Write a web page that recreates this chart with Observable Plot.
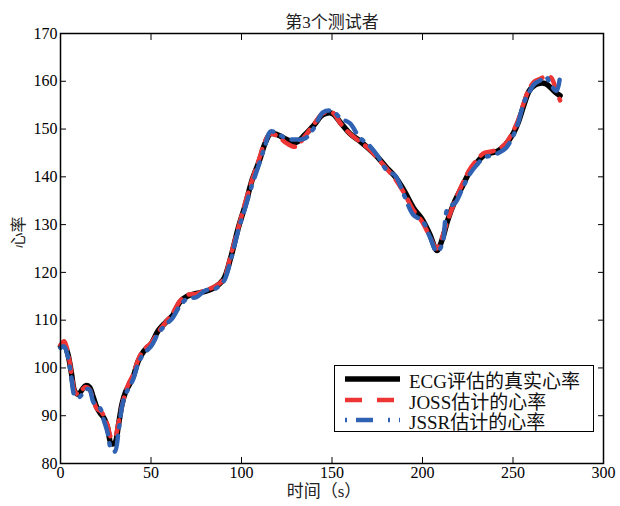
<!DOCTYPE html>
<html><head><meta charset="utf-8">
<script src="https://cdn.jsdelivr.net/npm/d3@7"></script>
<script src="https://cdn.jsdelivr.net/npm/@observablehq/plot@0.6"></script>
<style>
body{margin:0;background:#fff;}
#wrap{position:relative;width:620px;height:506px;}
#legend{position:absolute;left:334px;top:365px;width:258px;height:65px;border:1.5px solid #000;background:#fff;font-family:"Liberation Serif","Noto Sans CJK SC",serif;font-size:19px;color:#111;}
#legend .row{position:absolute;left:0;height:20px;display:flex;align-items:center;white-space:nowrap;}
#legend svg{margin-left:10px;margin-right:9px;}
</style></head>
<body><div id="wrap"></div>
<script>
const title = "第3个测试者";
const xLabel = "时间（s）";
const yLabel = "心率";
const seriesNames = ["ECG评估的真实心率", "JOSS估计的心率", "JSSR估计的心率"];
const xTicks = [0, 50, 100, 150, 200, 250, 300];
const yTicks = [80, 90, 100, 110, 120, 130, 140, 150, 160, 170];

const time = [0,2,4,6,8,10,12,14,16,18,20,22,24,26,28,30,32,34,36,38,40,43,46,50,54,58,62,66,70,75,80,85,90,94,98,102,106,110,113,116,120,125,130,135,140,145,150,155,160,165,170,175,180,185,190,195,200,204,208,211,214,218,222,226,230,234,238,242,246,250,253,256,259,262,265,268,271,274,276];
const ecg = [104.5,104.8,103,99,95,94.5,95.5,96.3,96,94,91.8,90.5,89.5,87.5,84.2,84.3,88,92.5,95,96.5,98,101.5,103.5,105,107.8,109.5,111,113.8,115,115.6,116,116.8,118.5,123,129,134,139.5,143.5,147,149,148.8,147.8,147.2,148.8,150.8,153,153.3,151.2,149,147.6,146,144.2,142,140,137,133.5,131,128,124.6,127,131,135,138,141,143,144.5,145,145.5,146.8,149,151.5,155,158,159.2,159.6,159.5,158.6,157.5,157];
const joss = [104.8,105.6,103.5,99,95,94.5,95.5,96,95.5,93.5,91.5,91,90,88,85.5,85.5,88.5,92,95,97,98.5,101.8,103.8,105.2,107.5,109.5,111.5,114,115.3,115.5,116.3,117,118.5,123.5,129,134.5,139.5,144,147.5,149,148.5,147,146.3,148.5,151,153.3,153.5,151,149,147.5,146,144,141.8,139.5,136.5,133,130.5,127.5,125,127.5,131,135,138.5,141.5,143.5,145,145.3,145.8,147,149.5,152,155.5,158.5,160,160.5,161,160.8,158,156];
const jssr = [104.2,104.5,102.5,98,94,93.8,94.5,95.5,95.5,93,92,91.5,89,86.5,83,82.5,86.5,92,94.5,96,97.5,101,103,104.5,107.2,109,110.5,113,114.5,114.8,116.2,116.5,118,122.5,128.5,133.5,138.5,143,146.5,149.5,149,148,147.8,148,150.2,153.5,153.8,152.2,151.2,148.3,146.8,144.5,141.5,140.2,136,132,130.8,127.5,124.3,126,133.5,134.5,137.5,140.5,142.5,144,144.5,145,146,148.5,151.5,155.5,157.8,159.5,160.2,161,159.2,158,161];

const rows = s => time.map((t, i) => ({t, v: s[i]}));
const font = '"Liberation Serif","Noto Sans CJK SC",serif';

const chart = Plot.plot({
  width: 620, height: 506,
  marginLeft: 60, marginRight: 17, marginTop: 33, marginBottom: 43,
  style: {fontFamily: font, fontSize: "16px", color: "#000", background: "#fff", overflow: "visible"},
  x: {domain: [0, 300], label: null},
  y: {domain: [80, 170], label: null},
  marks: [
    Plot.line(rows(ecg), {x: "t", y: "v", stroke: "#000", strokeWidth: 5.5, curve: "catmull-rom"}),
    Plot.line(rows(joss), {x: "t", y: "v", stroke: "#ee3535", strokeWidth: 4.5, strokeDasharray: "14,9", curve: "catmull-rom"}),
    Plot.line(rows(jssr), {x: "t", y: "v", stroke: "#2f62b3", strokeWidth: 4.5, strokeDasharray: "16,9,2,9", curve: "catmull-rom"}),
    Plot.frame({stroke: "#000", strokeWidth: 1.5}),
    Plot.axisX(xTicks, {anchor: "bottom", tickSize: -6, tickPadding: 9, label: null, fontSize: 16}),
    Plot.axisX(xTicks, {anchor: "top", tickSize: -6, tickFormat: () => "", label: null}),
    Plot.axisY(yTicks, {anchor: "left", tickSize: -6, tickPadding: 9, label: null, fontSize: 16}),
    Plot.axisY(yTicks, {anchor: "right", tickSize: -6, tickFormat: () => "", label: null}),
    Plot.text([title], {frameAnchor: "top", dy: -18, fontSize: 17, fill: "#222"}),
    Plot.text([xLabel], {frameAnchor: "bottom", dx: -8, dy: 33, fontSize: 17, fill: "#222"}),
    Plot.text([yLabel], {frameAnchor: "left", dx: -42, rotate: -90, fontSize: 16, fill: "#222"})
  ]
});
const wrap = document.getElementById("wrap");
wrap.appendChild(chart);

const legend = document.createElement("div");
legend.id = "legend";
const styles = [
  {stroke: "#000", w: 5.5, dash: null},
  {stroke: "#ee3535", w: 4.5, dash: "17,15"},
  {stroke: "#2f62b3", w: 4.5, dash: "2,9,17,15"}
];
const tops = [3, 24, 44];
seriesNames.forEach((name, i) => {
  const row = document.createElement("div");
  row.className = "row";
  row.style.top = tops[i] + "px";
  const s = styles[i];
  row.innerHTML = `<svg width="55" height="10"><line x1="0" x2="55" y1="5" y2="5" stroke="${s.stroke}" stroke-width="${s.w}" ${s.dash ? `stroke-dasharray="${s.dash}"` : ""}/></svg><span>${name}</span>`;
  legend.appendChild(row);
});
wrap.appendChild(legend);
</script>
</body></html>
